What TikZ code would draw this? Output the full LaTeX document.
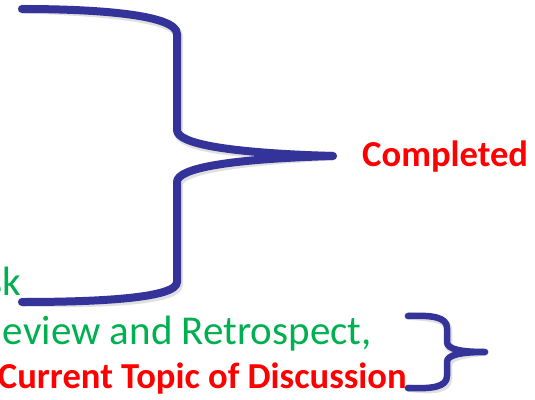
\documentclass[tikz,border=0pt]{standalone}
\usepackage{fontspec}
\setmainfont{Carlito}
\definecolor{bracecol}{RGB}{51,51,153}
\definecolor{greentxt}{RGB}{0,176,80}
\definecolor{redtxt}{RGB}{255,0,0}
\begin{document}
\begin{tikzpicture}[x=1pt,y=-1pt,
  bracebig/.style={draw=bracecol,line width=8pt,line cap=round,line join=round},
  bracesmall/.style={draw=bracecol,line width=6.5pt,line cap=round,line join=round},
  braceshadow/.style={draw=black,opacity=0.12,line cap=round,line join=round},
  greenlbl/.style={inner sep=0pt,text=greentxt,font=\fontsize{41}{41}\selectfont},
  redlbl/.style={inner sep=0pt,text=redtxt,font=\bfseries\fontsize{36.6}{36.6}\selectfont}]
\useasboundingbox (0,0) rectangle (535,399);
\clip (0,0) rectangle (535,399);
% text
\node[greenlbl,anchor=base east] (task) at (21,295) {sk};
\node[greenlbl,anchor=base east] (review) at (372,344) {eview and Retrospect,};
\node[redlbl,anchor=base east] (current) at (407,388) {Current Topic of Discussion};
\node[redlbl,anchor=base west] (done) at (362,166) {Completed};
% big brace
\coordinate (bigtop) at (22,9);
\coordinate (bigtip) at (333,156);
\coordinate (bigbot) at (22,302);
\draw[braceshadow,line width=9pt,shift={(1.5,2.5)}] (bigtop) .. controls (100,9) and (177,15) .. (177,34) -- (177,130) .. controls (177,144) and (230,153) .. (bigtip) .. controls (230,159) and (177,168) .. (177,182) -- (177,282) .. controls (177,298) and (100,302) .. (bigbot);
\draw[bracebig] (bigtop) .. controls (100,9) and (177,15) .. (177,34) -- (177,130) .. controls (177,144) and (230,153) .. (bigtip) .. controls (230,159) and (177,168) .. (177,182) -- (177,282) .. controls (177,298) and (100,302) .. (bigbot);
% small brace
\coordinate (smtop) at (408,316);
\coordinate (smtip) at (485,352);
\coordinate (smbot) at (408,388);
\draw[braceshadow,line width=7.5pt,shift={(1.5,2.5)}] (smtop) .. controls (432,315) and (447,317) .. (447,328) -- (447,342) .. controls (447,349) and (460,352) .. (smtip) .. controls (460,352) and (447,355) .. (447,362) -- (447,376) .. controls (447,387) and (432,389) .. (smbot);
\draw[bracesmall] (smtop) .. controls (432,315) and (447,317) .. (447,328) -- (447,342) .. controls (447,349) and (460,352) .. (smtip) .. controls (460,352) and (447,355) .. (447,362) -- (447,376) .. controls (447,387) and (432,389) .. (smbot);
\end{tikzpicture}
\end{document}
